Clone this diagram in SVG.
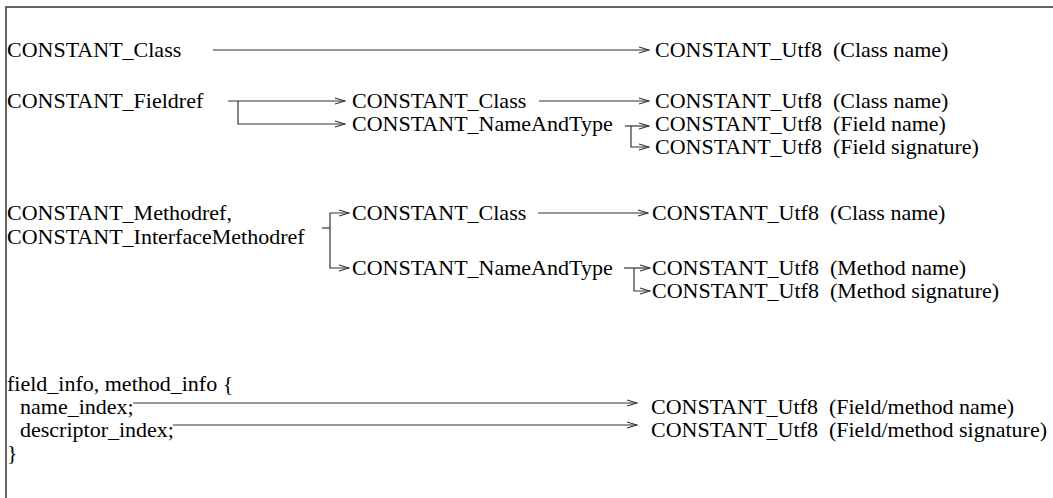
<svg xmlns="http://www.w3.org/2000/svg" width="1053" height="498" viewBox="0 0 1053 498">
<defs>
<marker id="ah" markerWidth="12" markerHeight="8" refX="11" refY="4" orient="auto" markerUnits="userSpaceOnUse">
<path d="M1,1 L11,4 L1,7" fill="none" stroke="#333" stroke-width="1.2"/>
</marker>
</defs>
<rect width="1053" height="498" fill="#fff"/>
<path d="M6,498 V7 H1053" fill="none" stroke="#333" stroke-width="1.5"/>
<g id="n-class1"><text x="7" y="57" font-family="Liberation Serif" font-size="22">CONSTANT_Class</text></g>
<g id="n-utf8-1"><text x="655" y="57" font-family="Liberation Serif" font-size="22">CONSTANT_Utf8&#160; (Class name)</text></g>
<g id="n-fieldref"><text x="7" y="108" font-family="Liberation Serif" font-size="22">CONSTANT_Fieldref</text></g>
<g id="n-class2"><text x="352" y="108" font-family="Liberation Serif" font-size="22">CONSTANT_Class</text></g>
<g id="n-utf8-2"><text x="655" y="108" font-family="Liberation Serif" font-size="22">CONSTANT_Utf8&#160; (Class name)</text></g>
<g id="n-nat1"><text x="352" y="131" font-family="Liberation Serif" font-size="22">CONSTANT_NameAndType</text></g>
<g id="n-utf8-3"><text x="655" y="131" font-family="Liberation Serif" font-size="22">CONSTANT_Utf8&#160; (Field name)</text></g>
<g id="n-utf8-4"><text x="655" y="154" font-family="Liberation Serif" font-size="22">CONSTANT_Utf8&#160; (Field signature)</text></g>
<g id="n-methodref"><text x="7" y="220" font-family="Liberation Serif" font-size="22">CONSTANT_Methodref,</text><text x="7" y="244" font-family="Liberation Serif" font-size="22">CONSTANT_InterfaceMethodref</text></g>
<g id="n-class3"><text x="352" y="220" font-family="Liberation Serif" font-size="22">CONSTANT_Class</text></g>
<g id="n-utf8-5"><text x="652" y="220" font-family="Liberation Serif" font-size="22">CONSTANT_Utf8&#160; (Class name)</text></g>
<g id="n-nat2"><text x="352" y="275" font-family="Liberation Serif" font-size="22">CONSTANT_NameAndType</text></g>
<g id="n-utf8-6"><text x="652" y="275" font-family="Liberation Serif" font-size="22">CONSTANT_Utf8&#160; (Method name)</text></g>
<g id="n-utf8-7"><text x="652" y="298" font-family="Liberation Serif" font-size="22">CONSTANT_Utf8&#160; (Method signature)</text></g>
<g id="n-info"><text x="7" y="391" font-family="Liberation Serif" font-size="22">field_info, method_info {</text><text x="20" y="414" font-family="Liberation Serif" font-size="22">name_index;</text><text x="20" y="437" font-family="Liberation Serif" font-size="22">descriptor_index;</text><text x="7" y="460" font-family="Liberation Serif" font-size="22">}</text></g>
<g id="n-utf8-8"><text x="651" y="414" font-family="Liberation Serif" font-size="22">CONSTANT_Utf8&#160; (Field/method name)</text></g>
<g id="n-utf8-9"><text x="651" y="437" font-family="Liberation Serif" font-size="22">CONSTANT_Utf8&#160; (Field/method signature)</text></g>
<g id="connectors" fill="none" stroke="#333" stroke-width="1.2">
<path d="M213,50 H649" marker-end="url(#ah)"/>
<path d="M228,101 H345" marker-end="url(#ah)"/>
<path d="M238,101 V124 H345" marker-end="url(#ah)"/>
<path d="M539,101 H649" marker-end="url(#ah)"/>
<path d="M625,126 H649" marker-end="url(#ah)"/>
<path d="M631,126 V147 H649" marker-end="url(#ah)"/>
<path d="M322,228 H330"/>
<path d="M330,228 V213 H349" marker-end="url(#ah)"/>
<path d="M330,228 V268 H349" marker-end="url(#ah)"/>
<path d="M538,213 H648" marker-end="url(#ah)"/>
<path d="M624,268 H650" marker-end="url(#ah)"/>
<path d="M634,268 V291 H650" marker-end="url(#ah)"/>
<path d="M133,403 H637" marker-end="url(#ah)"/>
<path d="M173,425 H637" marker-end="url(#ah)"/>
</g>
</svg>
